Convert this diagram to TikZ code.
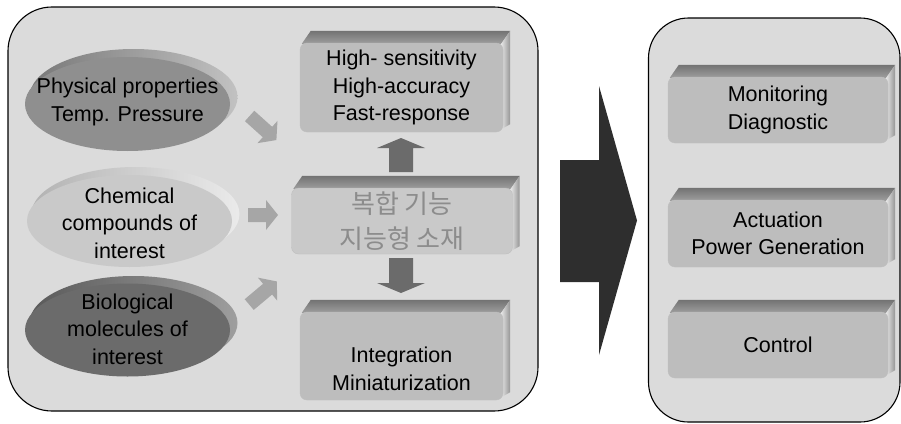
\documentclass[tikz,border=0pt]{standalone}
\usepackage{fontspec}
\setmainfont{Liberation Sans}
\newfontfamily\hangul{Noto Sans CJK KR}
\usetikzlibrary{shapes.geometric}
\pgfdeclarelayer{panels}
\pgfdeclarelayer{bevels}
\pgfsetlayers{panels,bevels,main}

\definecolor{panelfill}{gray}{0.86}
\definecolor{facefill}{gray}{0.74}
\definecolor{midfill}{gray}{0.79}
\definecolor{midtext}{gray}{0.55}
\definecolor{physfill}{gray}{0.56}
\definecolor{physrimA}{gray}{0.47}
\definecolor{physrimB}{gray}{0.76}
\definecolor{chemfill}{gray}{0.79}
\definecolor{chemrimA}{gray}{0.70}
\definecolor{chemrimB}{gray}{0.92}
\definecolor{biofill}{gray}{0.42}
\definecolor{biorimA}{gray}{0.35}
\definecolor{biorimB}{gray}{0.62}
\definecolor{flowgray}{gray}{0.65}
\definecolor{stemgray}{gray}{0.42}
\definecolor{bigarrow}{gray}{0.18}

\tikzset{
  panel/.style={draw=black, line width=1.1pt, fill=panelfill, rounded corners=44pt},
  txt/.style={font=\fontsize{21.5pt}{27.5pt}\selectfont, align=center, text=black},
  face/.style={rectangle, rounded corners=7pt, fill=facefill, draw=black!25,
    line width=0.4pt, inner sep=0pt, txt},
  lobe/.style={ellipse, inner sep=0pt},
}

% raised top and right edges of a block
\newcommand\bevel[1]{%
  \begin{pgfonlayer}{bevels}
    \shade[top color=black!55, bottom color=black!38]
      ([xshift=2pt,yshift=-1pt]#1.north west) -- ([xshift=11pt,yshift=12pt]#1.north west)
      -- ([xshift=7pt,yshift=12pt]#1.north east) -- ([xshift=-2pt,yshift=-1pt]#1.north east) -- cycle;
    \shade[left color=black!10, right color=black!42]
      ([xshift=-2pt,yshift=-1pt]#1.north east) -- ([xshift=7pt,yshift=12pt]#1.north east)
      -- ([xshift=7pt,yshift=8pt]#1.south east) -- ([xshift=-2pt,yshift=3pt]#1.south east) -- cycle;
  \end{pgfonlayer}}

% raised rim behind an ellipse
\newcommand\rim[5]{%
  \begin{pgfonlayer}{bevels}
    \shade[left color=#2, right color=#3]
      ([xshift=6pt,yshift=7pt]#1.center) ellipse [x radius=#4, y radius=#5];
  \end{pgfonlayer}}

% block arrow: centre coordinate, angle, length, shaft width, head width, head length, colour
\newcommand\blockarrow[7]{%
  \fill[#7, shift={(#1)}, rotate=#2]
    ({-#3/2},{-#4/2}) -- ({#3/2-#6},{-#4/2}) -- ({#3/2-#6},{-#5/2}) -- ({#3/2},0)
    -- ({#3/2-#6},{#5/2}) -- ({#3/2-#6},{#4/2}) -- ({-#3/2},{#4/2}) -- cycle;}

\begin{document}
\begin{tikzpicture}[x=1pt, y=-1pt]
  \useasboundingbox (0,0) rectangle (901,423);

  % panels
  \begin{pgfonlayer}{panels}
    \draw[panel] (8,7) rectangle (538,411);
    \draw[panel, rounded corners=40pt] (648.5,18) rectangle (900,422);
  \end{pgfonlayer}

  % source ellipses
  \node[lobe, fill=physfill, minimum width=205pt, minimum height=94pt,
        label={[txt, yshift=2pt]center:Physical properties\\Temp. Pressure}] (phys) at (127.5,104) {};
  \node[lobe, fill=chemfill, minimum width=205pt, minimum height=92pt,
        label={[txt, yshift=-2pt]center:Chemical\\compounds of\\interest}] (chem) at (129.5,221) {};
  \node[lobe, fill=biofill, minimum width=205pt, minimum height=93pt,
        label={[txt, yshift=1pt]center:Biological\\molecules of\\interest}] (bio) at (127.5,330) {};
  \rim{phys}{physrimA}{physrimB}{104pt}{48pt}
  \rim{chem}{chemrimA}{chemrimB}{104pt}{47pt}
  \rim{bio}{biorimA}{biorimB}{104pt}{47pt}

  % central blocks
  \node[face, minimum width=203pt, minimum height=89pt] (perf) at (401.5,87.5)
    {High- sensitivity\\High-accuracy\\Fast-response};
  \node[face, fill=midfill, minimum width=221pt, minimum height=66pt,
        font=\hangul\fontsize{26pt}{35pt}\selectfont, text=midtext] (core) at (402,221)
    {복합 기능\\지능형 소재};
  \node[face, minimum width=203pt, minimum height=88pt,
        label={[txt, yshift=-13pt]center:Integration\\Miniaturization}] (integ) at (401.5,356) {};
  \bevel{perf}
  \bevel{core}
  \bevel{integ}

  % application blocks
  \node[face, minimum width=220pt, minimum height=66pt] (monit) at (778,110)
    {Monitoring\\Diagnostic};
  \node[face, minimum width=220pt, minimum height=67pt] (actu) at (778,233.5)
    {Actuation\\Power Generation};
  \node[face, minimum width=220pt, minimum height=66pt] (ctrl) at (778,345)
    {Control};
  \bevel{monit}
  \bevel{actu}
  \bevel{ctrl}

  % flow arrows
  \coordinate (inA) at (263,128);
  \coordinate (inB) at (263,215);
  \coordinate (inC) at (263,293);
  \coordinate (up) at (401,155);
  \coordinate (down) at (401,275.5);
  \blockarrow{inA}{-42}{36}{14}{30}{12}{flowgray}
  \blockarrow{inB}{0}{30}{14}{30}{12}{flowgray}
  \blockarrow{inC}{40}{36}{14}{30}{12}{flowgray}
  \blockarrow{up}{90}{34}{24}{48}{10}{stemgray}
  \blockarrow{down}{-90}{35}{24}{48}{10}{stemgray}

  % large arrow between panels
  \fill[bigarrow] (560,160) -- (599,160) -- (599,86) -- (637,220.5) -- (599,355)
    -- (599,282) -- (560,282) -- cycle;
\end{tikzpicture}
\end{document}
